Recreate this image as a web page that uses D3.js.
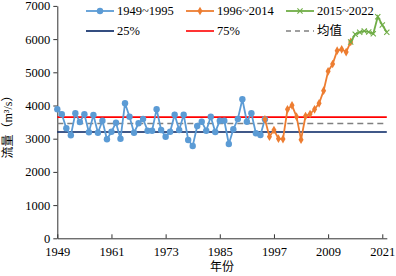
<!DOCTYPE html>
<html>
<head>
<meta charset="utf-8">
<script src="https://cdn.jsdelivr.net/npm/d3@7"></script>
<style>
  body { margin: 0; background: #fff; }
  svg text { font-family: "Liberation Serif", "Noto Sans CJK SC", serif; }
</style>
</head>
<body>
<div id="chart"></div>
<script>
// annual discharge (m3/s)
const years1 = d3.range(1949, 1996);
const flow1 = [3886, 3735, 3313, 3102, 3765, 3503, 3735, 3193, 3714, 3180,
  3542, 2982, 3211, 3482, 3000, 4066, 3663, 3181, 3464, 3593,
  3241, 3241, 3886, 3262, 3060, 3211, 3723, 3262, 3723, 2961,
  2780, 3383, 3512, 3241, 3663, 3202, 3542, 3542, 2840, 3283,
  3593, 4187, 3512, 3765, 3162, 3111, 3584];
const years2 = d3.range(1995, 2015);
const flow2 = [3584, 3060, 3262, 3000, 2990, 3886, 4006, 3663, 2970, 3684,
  3744, 3886, 4066, 4446, 5030, 5250, 5650, 5693, 5611, 5913];
const years3 = d3.range(2014, 2023);
const flow3 = [5913, 6145, 6205, 6244, 6214, 6163, 6675, 6425, 6205];

const q25 = 3200, q75 = 3650, meanFlow = 3460;
const xTicks = [1949, 1961, 1973, 1985, 1997, 2009, 2021];
const yTicks = [0, 1000, 2000, 3000, 4000, 5000, 6000, 7000];

const width = 396, height = 276;
const svg = d3.select("#chart").append("svg")
    .attr("width", width)
    .attr("height", height);

const x = d3.scaleLinear().domain([1949, 2022]).range([57.3, 386.8]);
const y = d3.scaleLinear().domain([0, 7000]).range([238.3, 5.9]);

// axes
svg.append("g")
    .attr("transform", "translate(0," + y(0) + ")")
    .call(d3.axisBottom(x).tickValues(xTicks).tickFormat(d3.format("d")).tickSizeInner(-4).tickSizeOuter(0).tickPadding(9))
    .attr("font-family", null)
    .call(g => g.selectAll("text").attr("font-size", 12.5).attr("fill", "#000"))
    .call(g => g.selectAll("line,path").attr("stroke", "#333"));

svg.append("g")
    .attr("transform", "translate(" + x(1949) + ",0)")
    .call(d3.axisLeft(y).tickValues(yTicks).tickFormat(d3.format("d")).tickSizeInner(4).tickSizeOuter(0).tickPadding(3))
    .attr("font-family", null)
    .call(g => g.selectAll("text").attr("font-size", 12.5).attr("fill", "#000"))
    .call(g => g.selectAll("line,path").attr("stroke", "#333"));

// reference lines
const refs = [
  { v: q25, color: "#002060", dash: null },
  { v: q75, color: "#FF0000", dash: null },
  { v: meanFlow, color: "#808080", dash: "6,4" }
];
svg.selectAll(".ref").data(refs).join("line")
    .attr("x1", x(1949)).attr("x2", x(2022))
    .attr("y1", d => y(d.v)).attr("y2", d => y(d.v))
    .attr("stroke", d => d.color)
    .attr("stroke-width", 1.6)
    .attr("stroke-dasharray", d => d.dash);

const line = d3.line().x(d => x(d[0])).y(d => y(d[1]));

function series(yrs, vals, color, marker) {
  const pts = yrs.map((yr, i) => [yr, vals[i]]);
  svg.append("path").datum(pts)
      .attr("d", line)
      .attr("fill", "none")
      .attr("stroke", color)
      .attr("stroke-width", 1.8);
  const g = svg.append("g");
  pts.forEach(p => drawMarker(g, x(p[0]), y(p[1]), color, marker));
}

function drawMarker(g, cx, cy, color, marker) {
  if (marker === "circle") {
    g.append("circle").attr("cx", cx).attr("cy", cy).attr("r", 3.2).attr("fill", color);
  } else if (marker === "diamond") {
    g.append("path").attr("transform", "translate(" + cx + "," + cy + ")")
        .attr("d", d3.symbol(d3.symbolDiamond, 22)()).attr("fill", color);
  } else {
    g.append("path").attr("transform", "translate(" + cx + "," + cy + ")")
        .attr("d", "M-2.6,-2.6L2.6,2.6M-2.6,2.6L2.6,-2.6")
        .attr("stroke", color).attr("stroke-width", 1.1).attr("fill", "none");
  }
}

series(years1, flow1, "#5B9BD5", "circle");
series(years2, flow2, "#ED7D31", "diamond");
series(years3, flow3, "#70AD47", "cross");

// legend
const legendItems = [
  { label: "1949~1995", color: "#5B9BD5", marker: "circle", lx: 86, ly: 11 },
  { label: "1996~2014", color: "#ED7D31", marker: "diamond", lx: 186, ly: 11 },
  { label: "2015~2022", color: "#70AD47", marker: "cross", lx: 286, ly: 11 },
  { label: "25%", color: "#002060", marker: null, lx: 86, ly: 31 },
  { label: "75%", color: "#FF0000", marker: null, lx: 186, ly: 31 },
  { label: "均值", color: "#808080", marker: null, dash: "5,4", lx: 286, ly: 31 }
];
const lg = svg.append("g");
legendItems.forEach(d => {
  lg.append("line")
      .attr("x1", d.lx).attr("x2", d.lx + 28)
      .attr("y1", d.ly).attr("y2", d.ly)
      .attr("stroke", d.color)
      .attr("stroke-width", d.marker ? 1.8 : 1.6)
      .attr("stroke-dasharray", d.dash || null);
  if (d.marker) drawMarker(lg, d.lx + 14, d.ly, d.color, d.marker);
  lg.append("text")
      .attr("x", d.lx + 31).attr("y", d.ly)
      .attr("dy", "0.35em")
      .attr("font-size", 12.5)
      .text(d.label);
});

// axis titles
svg.append("text")
    .attr("x", x(1985.5)).attr("y", 271)
    .attr("text-anchor", "middle")
    .attr("font-size", 12)
    .text("年份");

svg.append("text")
    .attr("transform", "translate(12,124) rotate(-90)")
    .attr("text-anchor", "middle")
    .attr("font-size", 12)
    .text("流量（m³/s）");
</script>
</body>
</html>
